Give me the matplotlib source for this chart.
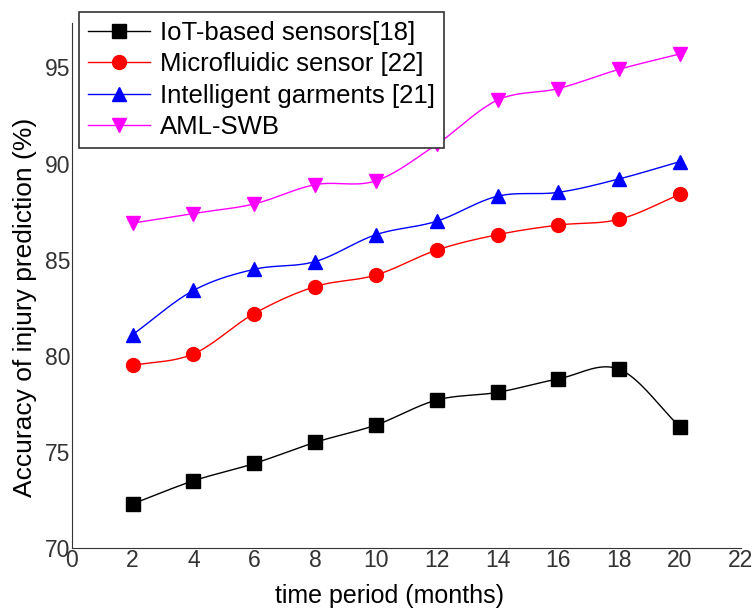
import numpy as np
import matplotlib.pyplot as plt

# дані
months = [2, 4, 6, 8, 10, 12, 14, 16, 18, 20]
iot_sensors = [72.3, 73.5, 74.4, 75.5, 76.4, 77.7, 78.1, 78.8, 79.3, 76.3]
microfluidic = [79.5, 80.1, 82.2, 83.6, 84.2, 85.5, 86.3, 86.8, 87.1, 88.4]
garments = [81.1, 83.4, 84.5, 84.9, 86.3, 87.0, 88.3, 88.5, 89.2, 90.1]
aml_swb = [86.9, 87.4, 87.9, 88.9, 89.1, 91.0, 93.3, 93.9, 94.9, 95.7]
x_ticks = list(range(0, 23, 2))
y_ticks = [70, 75, 80, 85, 90, 95]


def smooth_line(x, y, n=20):
    # крива Catmull-Rom через точки (як згладжена лінія в Origin)
    x = np.asarray(x, float)
    y = np.asarray(y, float)
    px = np.concatenate([[2 * x[0] - x[1]], x, [2 * x[-1] - x[-2]]])
    py = np.concatenate([[2 * y[0] - y[1]], y, [2 * y[-1] - y[-2]]])
    t = np.linspace(0, 1, n, endpoint=False)
    xs, ys = [], []
    for i in range(1, len(px) - 2):
        for p, out in ((px, xs), (py, ys)):
            p0, p1, p2, p3 = p[i - 1], p[i], p[i + 1], p[i + 2]
            out.extend(0.5 * (2 * p1 + (-p0 + p2) * t
                              + (2 * p0 - 5 * p1 + 4 * p2 - p3) * t ** 2
                              + (-p0 + 3 * p1 - 3 * p2 + p3) * t ** 3))
    xs.append(x[-1])
    ys.append(y[-1])
    return np.array(xs), np.array(ys)


plt.rcParams['font.family'] = ['Liberation Sans', 'DejaVu Sans']

fig = plt.figure(figsize=(7.56, 6.09), dpi=100)
ax = fig.add_axes([0.095, 0.1, 0.885, 0.862])

series = [
    (iot_sensors, 'black', 's', 'IoT-based sensors[18]'),
    (microfluidic, 'red', 'o', 'Microfluidic sensor [22]'),
    (garments, 'blue', '^', 'Intelligent garments [21]'),
    (aml_swb, 'magenta', 'v', 'AML-SWB'),
]
handles = []
for values, color, marker, label in series:
    sx, sy = smooth_line(months, values)
    ax.plot(sx, sy, color=color, lw=1)
    ax.plot(months, values, linestyle='none', marker=marker, color=color, markersize=10)
    h, = ax.plot([], [], color=color, lw=1, marker=marker, markersize=10, label=label)
    handles.append(h)

ax.set_xlim(0, 22)
ax.set_ylim(70, 97.3)
ax.set_xticks(x_ticks)
ax.set_yticks(y_ticks)
ax.tick_params(length=0, colors='#333333', pad=1, labelsize=16.5)
for s in ['top', 'right']:
    ax.spines[s].set_visible(False)
ax.spines['left'].set_color('#333333')
ax.spines['bottom'].set_color('#333333')

ax.set_xlabel('time period (months)', fontsize=18)
ax.xaxis.set_label_coords(0.475, -0.068)
ax.set_ylabel('Accuracy of injury prediction (%)', fontsize=19)
ax.yaxis.set_label_coords(-0.052, 0.459)

leg = fig.legend(handles=handles, loc='upper left', bbox_to_anchor=(0.1045, 0.98),
                 fontsize=18.5, frameon=True, fancybox=False, edgecolor='#333333',
                 framealpha=1, handlelength=2.4, borderpad=0.35, labelspacing=0.28,
                 handletextpad=0.4, borderaxespad=0)
leg.get_frame().set_linewidth(1.2)

plt.savefig('out.png', dpi=100)
